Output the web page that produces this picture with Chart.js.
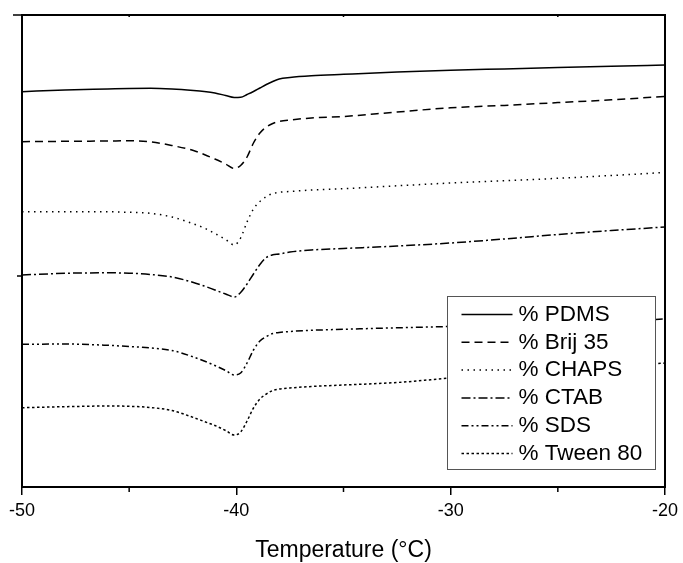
<!DOCTYPE html>
<html>
<head>
<meta charset="utf-8">
<script src="https://cdn.jsdelivr.net/npm/chart.js@4.4.1/dist/chart.umd.min.js"></script>
<style>
    html, body { margin: 0; padding: 0; background: #fff; }
    #wrap { width: 683px; height: 563px; }
</style>
</head>
<body>
<div id="wrap"><canvas id="dscChart" width="683" height="563"></canvas></div>
<script>
// DSC traces, heat flow in arbitrary units (curves are offset for display)
const temperature = [-50, -48, -46, -45, -44, -43, -42, -41.5, -41, -40.5, -40.1, -39.8, -39.5, -39.2,
    -38.9, -38.6, -38.3, -38, -37.5, -36.5, -35, -32.5, -30, -27.5, -25, -22.5, -20];

const pdms = [39.53, 39.70, 39.80, 39.85, 39.87, 39.80, 39.65, 39.55, 39.40, 39.15, 38.95, 38.97, 39.25, 39.55,
    39.90, 40.25, 40.55, 40.80, 40.95, 41.12, 41.27, 41.50, 41.67, 41.81, 41.95, 42.08, 42.20];
const brij35 = [34.53, 34.57, 34.60, 34.62, 34.52, 34.15, 33.65, 33.25, 32.80, 32.30, 31.85, 32.15, 33.00, 34.40,
    35.40, 36.00, 36.35, 36.55, 36.70, 36.90, 37.05, 37.50, 37.92, 38.16, 38.44, 38.72, 39.05];
const chaps = [27.53, 27.53, 27.52, 27.47, 27.37, 27.00, 26.32, 25.90, 25.35, 24.75, 24.20, 24.90, 26.50, 27.80,
    28.55, 29.05, 29.35, 29.47, 29.55, 29.70, 29.83, 30.12, 30.40, 30.62, 30.87, 31.15, 31.45];
const ctab = [21.20, 21.37, 21.42, 21.38, 21.25, 21.00, 20.45, 20.10, 19.70, 19.30, 19.00, 19.45, 20.30, 21.30,
    22.25, 22.95, 23.22, 23.30, 23.50, 23.70, 23.85, 24.10, 24.40, 24.80, 25.25, 25.65, 26.00];
const sds = [14.27, 14.30, 14.17, 14.05, 13.90, 13.65, 13.00, 12.60, 12.15, 11.65, 11.20, 11.40, 12.40, 13.70,
    14.60, 15.05, 15.35, 15.45, 15.55, 15.67, 15.77, 15.92, 16.05, 16.20, 16.38, 16.57, 16.80];
const tween80 = [7.93, 8.03, 8.10, 8.07, 7.95, 7.65, 6.95, 6.55, 6.15, 5.65, 5.20, 5.50, 6.60, 7.90,
    8.80, 9.30, 9.65, 9.80, 9.90, 10.05, 10.20, 10.45, 10.90, 11.30, 11.60, 12.00, 12.40];

const seriesLabels = ['% PDMS', '% Brij 35', '% CHAPS', '% CTAB', '% SDS', '% Tween 80'];
const xMajorTicks = [-50, -40, -30, -20];
const xMinorTicks = [-45, -35, -25];
const yMajorTicks = [47.2];
const yMinorTicks = [21.1];

const FONT = '"Liberation Sans", Arial, Helvetica, sans-serif';
const dashes = [[], [8, 5], [1.5, 4.5], [9, 3, 2, 3], [7, 3, 2, 3, 2, 3], [2.5, 2.5]];

const seriesValues = [pdms, brij35, chaps, ctab, sds, tween80];
const datasets = seriesValues.map((vals, i) => ({
    label: seriesLabels[i],
    data: temperature.map((t, j) => ({ x: t, y: vals[j] })),
    borderColor: '#000',
    borderWidth: 1.5,
    borderDash: dashes[i],
    pointRadius: 0,
    fill: false,
    cubicInterpolationMode: 'monotone'
}));

// frame, minor ticks and the boxed legend inside the plot
const framePlugin = {
    id: 'frame',
    afterDatasetsDraw(chart) {
        const ctx = chart.ctx;
        const a = chart.chartArea;
        const xs = chart.scales.x;
        const ys = chart.scales.y;
        ctx.save();
        ctx.strokeStyle = '#000';
        ctx.lineWidth = 2;
        ctx.strokeRect(a.left, a.top, a.right - a.left, a.bottom - a.top);

        ctx.lineWidth = 1.5;
        ctx.beginPath();
        xMinorTicks.forEach(v => {
            const px = xs.getPixelForValue(v);
            ctx.moveTo(px, a.bottom);
            ctx.lineTo(px, a.bottom + 5);
            ctx.moveTo(px, a.top);
            ctx.lineTo(px, a.top + 2);
        });
        yMajorTicks.forEach(v => {
            const py = ys.getPixelForValue(v);
            ctx.moveTo(a.left, py);
            ctx.lineTo(a.left - 9, py);
        });
        yMinorTicks.forEach(v => {
            const py = ys.getPixelForValue(v);
            ctx.moveTo(a.left, py);
            ctx.lineTo(a.left - 5, py);
        });
        ctx.stroke();

        // legend
        const box = { left: 447.5, top: 296.5, width: 208, height: 173 };
        ctx.fillStyle = '#fff';
        ctx.fillRect(box.left, box.top, box.width, box.height);
        ctx.strokeStyle = '#555';
        ctx.lineWidth = 1;
        ctx.strokeRect(box.left, box.top, box.width, box.height);

        ctx.font = '22.5px ' + FONT;
        ctx.textBaseline = 'middle';
        ctx.textAlign = 'left';
        chart.data.datasets.forEach((ds, i) => {
            const y = box.top + 18 + i * 27.8;
            ctx.strokeStyle = '#000';
            ctx.lineWidth = 1.5;
            ctx.setLineDash(ds.borderDash);
            ctx.beginPath();
            ctx.moveTo(box.left + 14, y);
            ctx.lineTo(box.left + 65, y);
            ctx.stroke();
            ctx.setLineDash([]);
            ctx.fillStyle = '#000';
            ctx.fillText(ds.label, box.left + 71, y);
        });
        ctx.restore();
    }
};

new Chart(document.getElementById('dscChart'), {
    type: 'line',
    data: { datasets },
    options: {
        responsive: false,
        animation: false,
        layout: { padding: { left: 22, right: 16, top: 15, bottom: 0 } },
        plugins: {
            legend: { display: false },
            tooltip: { enabled: false }
        },
        scales: {
            x: {
                type: 'linear',
                min: -50,
                max: -20,
                afterBuildTicks: s => { s.ticks = xMajorTicks.map(v => ({ value: v })); },
                afterFit: s => { s.height = 76; },
                grid: { drawOnChartArea: false, drawTicks: true, tickLength: 8, color: '#000', lineWidth: 1.5 },
                border: { display: true, color: '#000', width: 2 },
                ticks: { color: '#000', font: { family: FONT, size: 18 }, padding: 5, maxRotation: 0 },
                title: {
                    display: true,
                    text: 'Temperature (°C)',
                    color: '#000',
                    font: { family: FONT, size: 23, lineHeight: 1 },
                    padding: { top: 0, bottom: 1 }
                }
            },
            y: { display: false, min: 0, max: 47.2 }
        }
    },
    plugins: [framePlugin]
});
</script>
</body>
</html>
